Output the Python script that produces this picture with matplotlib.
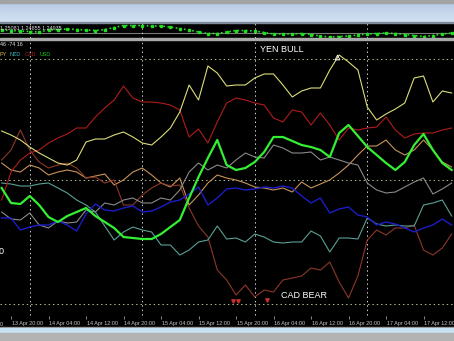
"""Currency strength chart (MT4 style screenshot)"""

import matplotlib.pyplot as plt
import numpy as np
from matplotlib.colors import LinearSegmentedColormap
from matplotlib.patches import Rectangle

W, H = 454, 341

# hours counted from 13 Apr 20:00, one reading every 2 hours
hours = list(range(-2, 95, 2))

jpy = [49, 45, 40, 33, 27, 22, 17, 15, 20, 38, 41, 41, 45, 48, 43, 37, 35, 43, 52, 68,
       95, 80, 114, 107, 94, 95, 95, 102, 106, 106, 95, 83, 89, 92, 92, 110, 125, 118, 110, 73,
       60, 66, 71, 77, 102, 104, 78, 89, 87]
eur = [-20, 8, 20, 27, 30, 37, 42, 46, 52, 52, 63, 72, 80, 94, 82, 78, 78, 77, 75, 70,
       43, 51, 37, 58, 77, 82, 80, 77, 75, 62, 58, 70, 68, 55, 67, 55, 40, 52, 50, 52,
       53, 63, 50, 42, 46, 47, 47, 50, 52]
usd = [-8, -23, -24, -16, -25, -37, -42, -36, -32, -28, -36, -42, -48, -57, -58, -59, -59, -54, -47, -40,
       -18, 3, 22, 40, 15, 10, 12, 18, 28, 43, 43, 39, 35, 33, 30, 23, 47, 55, 44, 33,
       25, 17, 10, 18, 35, 46, 30, 17, 10]
gbp = [-38, -38, -50, -47, -45, -45, -41, -45, -51, -34, -24, -30, -31, -28, -26, -32, -31, -27, -22, -20,
       -14, -7, -25, -18, -9, -8, -10, -9, -7, -8, -6, -8, -16, -23, -18, -33, -29, -27, -35, -37,
       -45, -42, -44, -48, -52, -48, -45, -39, -45]
nzd = [-3, -4, -6, -6, -4, -3, -8, -13, -20, -25, -32, -46, -60, -52, -47, -50, -52, -65, -65, -75,
       -70, -62, -60, -46, -59, -58, -62, -54, -57, -62, -63, -62, -62, -51, -56, -72, -58, -58, -59, -38,
       -44, -46, -45, -46, -46, -25, -23, -20, -36]
chf = [-32, -39, -40, -33, -45, -48, -41, -43, -42, -30, -32, -23, -25, -20, -18, -23, -23, -18, -20, -10,
       8, 17, 10, 15, 12, 20, 27, 23, 22, 35, 32, 27, 27, 28, 20, 23, 20, 17, 15, -3,
       -10, -13, -12, -7, -2, 2, -14, -9, -3]
aud = [17, 10, 8, 15, 12, 5, 8, 10, 8, 2, 4, 6, -5, 0, 8, 12, 5, -3, -7, 2,
       -25, -15, -3, 5, 2, 0, -3, -7, -8, -10, -8, -12, -2, -8, -4, 0, 7, 15, 25, 34,
       34, 40, 30, 25, 30, 40, 30, 18, 13]
cad = [20, 30, 50, 30, 18, 12, 15, 17, 12, 2, 3, -3, 0, -25, -25, -15, -8, -3, -6, -5,
       -28, -46, -57, -90, -100, -115, -105, -117, -110, -112, -100, -98, -96, -88, -90, -82, -102, -118, -96, -60,
       -50, -55, -48, -48, -45, -70, -75, -68, -54]

# price sub-window (offsets as read)
price = [8, 7.5, 7, 6.5, 6, 8, 8.5, 9, 8.5, 8, 7.5, 8.5, 10.5, 12.5, 12.5, 12.5, 12, 12, 11, 9.5,
         8, 6, 4.5, 4.5, 6, 7.5, 7.5, 7, 5.5, 4, 4, 4, 4.5, 3.5, 2, 1, 1.5, 2, 3, 4,
         4.5, 5, 4.5, 3.5, 2.5, 1.5, 2.5, 4, 5]
price_line = 5

levels = [121, 0, -124]
day_seps = [4, 28, 52, 76]
tick_hours = [0, 8, 16, 24, 32, 40, 48, 56, 64, 72, 80, 88]
tick_labels = ["13 Apr 20:00", "14 Apr 04:00", "14 Apr 12:00", "14 Apr 20:00",
               "15 Apr 04:00", "15 Apr 12:00", "15 Apr 20:00", "16 Apr 04:00", "16 Apr 12:00",
               "16 Apr 20:00", "17 Apr 04:00", "17 Apr 12:00"]
up_arrow_h, up_arrow_v = [69.5], [123]
down_arrow_h, down_arrow_v = [47.4, 48.4, 54.6], [-121, -121, -120]

XMIN, XMAX = -2.35, 94.5


def box(x0, y0, x1, y1):
    return [x0 / W, 1 - y1 / H, (x1 - x0) / W, (y1 - y0) / H]


def fxy(x, y):
    return x / W, 1 - y / H


fig = plt.figure(figsize=(W / 100, H / 100), dpi=100, facecolor="black")

for y0, y1, c in [(0, 3, "#a3a3a3"), (22, 23, "#7d8a99"), (38, 40, "#a9a9a9"),
                  (327, 328, "#8c8c8c"), (328, 333, "#c6e2f2"), (333, 341, "#b3b3b3")]:
    fig.patches.append(Rectangle((0, 1 - y1 / H), 1, (y1 - y0) / H,
                                 transform=fig.transFigure, color=c, zorder=0))

# title bar
tb = fig.add_axes(box(0, 3, W, 22))
tb.imshow(np.linspace(0, 1, 20)[:, None], aspect="auto",
          cmap=LinearSegmentedColormap.from_list("tb", ["#b8cce6", "#d3e1f2"]))
tb.axis("off")

dot = (0, (1.5, 3))

# price sub-window
axp = fig.add_axes(box(0, 23, W, 38))
axp.set_xlim(XMIN, XMAX)
axp.set_ylim(0, 15)
axp.axhline(price_line, color="#7a7a7a", lw=0.8)
for h in day_seps:
    axp.axvline(h, color="#d0d0d0", lw=0.7, ls=dot)
axp.plot(hours, price, color="#22dd22", lw=1.2, ls=(0, (1, 1.5)), marker="s", ms=1.6)
axp.axis("off")

# main window
ax = fig.add_axes(box(0, 40, W, 327))
ax.set_xlim(XMIN, XMAX)
ax.set_ylim(-147, 140)
for lv in levels:
    ax.axhline(lv, color="#b8b890", lw=0.7, ls=dot)
ax.vlines(day_seps, -135, 140, color="#d0d0d0", lw=0.7, ls=dot)

series = [(aud, "#c8945a", 0.8), (cad, "#8c3828", 0.8), (chf, "#8a8a8a", 0.8),
          (nzd, "#5aa096", 0.8), (gbp, "#1c1cc8", 1.0), (eur, "#b01c1c", 0.8),
          (jpy, "#dcdc78", 0.8), (usd, "#33f033", 1.6)]
for vals, col, lw in series:
    ax.plot(hours, vals, color=col, lw=lw)

ax.plot(up_arrow_h, up_arrow_v, ls="none", marker="^", ms=3.5, mfc="none", mec="white", mew=0.6)
ax.plot(down_arrow_h, down_arrow_v, ls="none", marker="v", ms=2.5, color="#c03030")

ax.vlines(tick_hours, -139, -136, color="#a0a0a0", lw=0.6)
for h, lab in zip(tick_hours, tick_labels):
    ax.text(h + 0.2, -144, lab, ha="left", va="center", fontsize=3.9,
            color="#c8c8c8", family="Liberation Sans")
ax.axis("off")

small = dict(fontsize=3.9, family="Liberation Sans", va="center")
fig.text(*fxy(0, 324), "0", color="#c8c8c8", **small)
fig.text(*fxy(0, 28), "1.25081 1.24855 1.24935", color="#e0e0e0", **small)
fig.text(*fxy(0, 45), "46 -74 16", color="#e0e0e0", **small)
fig.text(*fxy(0, 54), "PY", color="#d8c050", **small)
fig.text(*fxy(10, 54), "NZD", color="#40c0c0", **small)
fig.text(*fxy(25, 54), "CAD", color="#a02020", **small)
fig.text(*fxy(40, 54), "USD", color="#20c020", **small)

big = dict(fontsize=6.5, family="Liberation Sans", va="center", color="white")
fig.text(*fxy(260, 49), "YEN BULL", **big)
fig.text(*fxy(281, 295), "CAD BEAR", **big)
fig.text(*fxy(3.5, 251), "0", ha="right", **big)

fig.savefig("out.png", dpi=100, facecolor="black")
